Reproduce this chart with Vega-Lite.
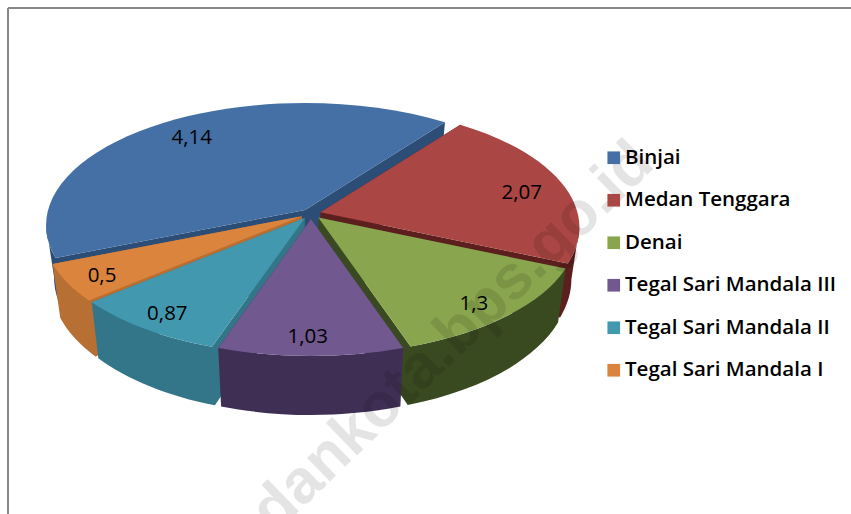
{
"$schema":"https://vega.github.io/schema/vega-lite/v6.json",
"width":851,"height":514,"padding":0,"autosize":{"type":"none"},
"background":"white",
"config":{"view":{"stroke":null},"axis":{"domain":false,"grid":false,"ticks":false,"labels":false,"title":null}},
"layer":[
{"data":{"values":[{"name":"Binjai","value":4.14},{"name":"Medan Tenggara","value":2.07},{"name":"Denai","value":1.3},{"name":"Tegal Sari Mandala III","value":1.03},{"name":"Tegal Sari Mandala II","value":0.87},{"name":"Tegal Sari Mandala I","value":0.5}]},
"transform":[
{"joinaggregate":[{"op":"sum","field":"value","as":"total"}]},
{"window":[{"op":"sum","field":"value","as":"cum"}],"ignorePeers":true},
{"calculate":"247.5+(datum.cum-datum.value)/datum.total*360","as":"p1"},
{"calculate":"247.5+datum.cum/datum.total*360","as":"p2"},
{"calculate":"datum.p1>=360?360:0","as":"wrap"},
{"calculate":"datum.p1-datum.wrap+7*cos((datum.p1-260)*PI/180)","as":"t1"},
{"calculate":"datum.p2-datum.wrap+7*cos((datum.p2-260)*PI/180)","as":"t2"},
{"calculate":"(datum.t1+datum.t2)/2","as":"tm"},
{"calculate":"datum.tm>300?datum.tm+6:datum.tm","as":"tl"},
{"calculate":"-cos(datum.tm*PI/180)","as":"z"},
{"calculate":"311+10*sin(datum.tm*PI/180)","as":"cx"},
{"calculate":"229-5*cos(datum.tm*PI/180)","as":"cy"},
{"calculate":"datum.cx-3+0.84*259*sin(datum.tl*PI/180)","as":"lx"},
{"calculate":"datum.cy+1-0.84*122*cos(datum.tl*PI/180)","as":"ly"},
{"calculate":"replace(''+datum.value,'.',',')","as":"label"},
{"calculate":"round(259*sin(datum.t1*PI/180)*100)/100","as":"sx"},
{"calculate":"round(-122*cos(datum.t1*PI/180)*100)/100","as":"sy"},
{"calculate":"round(259*sin(datum.t2*PI/180)*100)/100","as":"ex"},
{"calculate":"round(-122*cos(datum.t2*PI/180)*100)/100","as":"ey"},
{"calculate":"round(251*sin(datum.t1*PI/180)*100)/100","as":"bsx"},
{"calculate":"round((52-129*cos(datum.t1*PI/180))*100)/100","as":"bsy"},
{"calculate":"round(251*sin(datum.t2*PI/180)*100)/100","as":"bex"},
{"calculate":"round((52-129*cos(datum.t2*PI/180))*100)/100","as":"bey"},
{"calculate":"max(datum.t1,90)","as":"f1"},
{"calculate":"min(datum.t2,270)","as":"f2"},
{"calculate":"round(259*sin(datum.f1*PI/180)*100)/100","as":"fsx"},
{"calculate":"round(-122*cos(datum.f1*PI/180)*100)/100","as":"fsy"},
{"calculate":"round(259*sin(datum.f2*PI/180)*100)/100","as":"fex"},
{"calculate":"round(-122*cos(datum.f2*PI/180)*100)/100","as":"fey"},
{"calculate":"round(251*sin(datum.f1*PI/180)*100)/100","as":"gsx"},
{"calculate":"round((52-129*cos(datum.f1*PI/180))*100)/100","as":"gsy"},
{"calculate":"round(251*sin(datum.f2*PI/180)*100)/100","as":"gex"},
{"calculate":"round((52-129*cos(datum.f2*PI/180))*100)/100","as":"gey"},
{"calculate":"'M0 -15L'+datum.sx+' '+datum.sy+'A259 122 0 0 1 '+datum.ex+' '+datum.ey+'Z'","as":"top"},
{"calculate":"datum.sx>0?'M0 -15L'+datum.sx+' '+datum.sy+'L'+datum.bsx+' '+datum.bsy+'L0 40Z':'M0 -15L0 40L'+datum.bsx+' '+datum.bsy+'L'+datum.sx+' '+datum.sy+'Z'","as":"wallS"},
{"calculate":"datum.ex>0?'M0 -15L'+datum.ex+' '+datum.ey+'L'+datum.bex+' '+datum.bey+'L0 40Z':'M0 -15L0 40L'+datum.bex+' '+datum.bey+'L'+datum.ex+' '+datum.ey+'Z'","as":"wallE"},
{"calculate":"datum.f2>datum.f1?'M'+datum.fex+' '+datum.fey+'A259 122 0 0 0 '+datum.fsx+' '+datum.fsy+'L'+datum.gsx+' '+datum.gsy+'A251 129 0 0 1 '+datum.gex+' '+datum.gey+'Z':''","as":"wallO"},
{"calculate":"datum.wallS+datum.wallE+datum.wallO","as":"body"}
],
"resolve":{"scale":{"color":"independent"}},
"layer":[
{"mark":{"type":"point","filled":true,"opacity":1,"size":4,"strokeWidth":0},
"encoding":{
"x":{"field":"cx","type":"quantitative","scale":{"domain":[0,851]},"axis":null},
"y":{"field":"cy","type":"quantitative","scale":{"domain":[514,0]},"axis":null},
"shape":{"field":"body","type":"nominal","scale":null},
"order":{"field":"z"},
"color":{"field":"name","type":"nominal","sort":null,"legend":null,"scale":{"range":["#2c4d75","#5c1f1e","#3a4a20","#402f55","#33768a","#b86f33"]}}
}},
{"mark":{"type":"point","filled":true,"opacity":1,"size":4,"strokeWidth":0},
"encoding":{
"x":{"field":"cx","type":"quantitative","scale":{"domain":[0,851]},"axis":null},
"y":{"field":"cy","type":"quantitative","scale":{"domain":[514,0]},"axis":null},
"shape":{"field":"top","type":"nominal","scale":null},
"color":{"field":"name","type":"nominal","sort":null,
"scale":{"range":["#4470a5","#aa4643","#89a54e","#71588f","#4198af","#db843d"]},
"legend":{"orient":"none","legendX":603.5,"legendY":147.5,"title":null,"symbolType":"square","symbolSize":160,"symbolStrokeWidth":0,"labelFont":"Open Sans","labelFontWeight":600,"labelFontSize":20.5,"labelColor":"#000","labelLimit":300,"rowPadding":21.5,"labelOffset":1}}
}},
{"mark":{"type":"text","font":"Open Sans","fontWeight":500,"fontSize":20.5,"color":"#000"},
"encoding":{
"x":{"field":"lx","type":"quantitative","scale":{"domain":[0,851]},"axis":null},
"y":{"field":"ly","type":"quantitative","scale":{"domain":[514,0]},"axis":null},
"text":{"field":"label"}
}}
]},
{"data":{"values":[{"t":"medankota.bps.go.id"}]},
"mark":{"type":"text","font":"Liberation Sans","fontWeight":"bold","fontSize":62,"color":"#000","opacity":0.1,"angle":-44},
"encoding":{
"x":{"datum":420,"type":"quantitative","scale":{"domain":[0,851]},"axis":null},
"y":{"datum":368,"type":"quantitative","scale":{"domain":[514,0]},"axis":null},
"text":{"field":"t"}
}},
{"data":{"values":[{"a":8,"b":514}]},
"mark":{"type":"rule","color":"#888","strokeWidth":2},
"encoding":{
"x":{"field":"a","type":"quantitative","scale":{"domain":[0,851]},"axis":null},
"y":{"field":"a","type":"quantitative","scale":{"domain":[514,0]},"axis":null},
"y2":{"field":"b"}
}},
{"data":{"values":[{"a":8,"b":851}]},
"mark":{"type":"rule","color":"#888","strokeWidth":2},
"encoding":{
"x":{"field":"a","type":"quantitative","scale":{"domain":[0,851]},"axis":null},
"x2":{"field":"b"},
"y":{"field":"a","type":"quantitative","scale":{"domain":[514,0]},"axis":null}
}}
]
}
